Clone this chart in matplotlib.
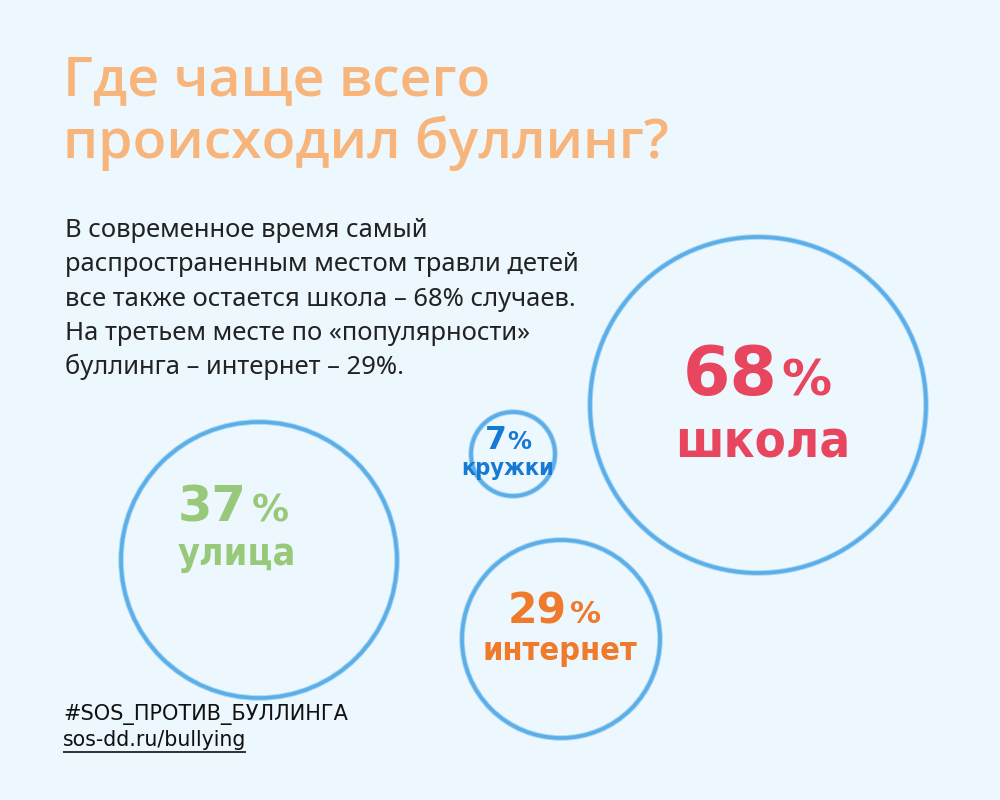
import matplotlib
matplotlib.use("Agg")
import matplotlib.pyplot as plt
from matplotlib.patches import Circle
from matplotlib import font_manager as fm

# ---- data ----
places = ["школа", "улица", "интернет", "кружки"]
shares = [68, 37, 29, 7]
title_lines = ["Где чаще всего", "происходил буллинг?"]
body_lines = [
    "В современное время самый",
    "распространенным местом травли детей",
    "все также остается школа – 68% случаев.",
    "На третьем месте по «популярности»",
    "буллинга – интернет – 29%.",
]
hashtag = "#SOS_ПРОТИВ_БУЛЛИНГА"
url = "sos-dd.ru/bullying"

# ---- layout / style (pixel coordinates) ----
BG = "#EDF7FE"
EDGE = "#5BAEE8"
label_colors = ["#E8455F", "#98C97A", "#EF7A2B", "#1679D3"]
centers = [(758, 405), (259, 560), (561, 639), (513, 454)]
radii = [168, 138, 99, 42]
num_left = [683, 178, 508, 485]
num_w = [95, 69, 59, 22]
pct_left = [781, 252, 570, 507]
pct_w = [50, 37, 31, 24]
num_base_y = [395, 522, 623, 449]
word_cx = [763, 237, 560, 508]
word_w = [175, 118, 155, 93]
word_base_y = [457, 565, 660, 475]

# font choices
ttf = fm.fontManager.ttflist
def has(name, weight=None, stretch=None):
    for f in ttf:
        if f.name != name:
            continue
        if weight is not None and f.weight != weight:
            continue
        if stretch is not None and f.stretch != stretch:
            continue
        return True
    return False

title_font = dict(family="Noto Sans", weight="bold")
for nm in ["Noto Sans", "Open Sans"]:
    if has(nm, 600):
        title_font = dict(family=nm, weight=600)
        break

num_font = dict(family="DejaVu Sans", weight="bold")
word_font = dict(family="DejaVu Sans", weight="bold")
if has("DejaVu Sans", 700, "condensed"):
    word_font = dict(family="DejaVu Sans", weight="bold", stretch="condensed")
elif has("Liberation Sans Narrow", 700):
    word_font = dict(family="Liberation Sans Narrow", weight="bold")

fig = plt.figure(figsize=(10, 8), dpi=100, facecolor=BG)
ax = fig.add_axes([0, 0, 1, 1])
ax.set_xlim(0, 1000)
ax.set_ylim(800, 0)
ax.set_aspect("equal")
ax.axis("off")
ax.set_facecolor(BG)
fig.canvas.draw()
renderer = fig.canvas.get_renderer()


def fit_size(s, width, **kw):
    t = ax.text(0, 0, s, fontsize=20, **kw)
    w = t.get_window_extent(renderer).width
    t.remove()
    return 20 * width / w


# title
ts = 0.5 * (fit_size(title_lines[0], 418, **title_font)
            + fit_size(title_lines[1], 618, **title_font))
for i, line in enumerate(title_lines):
    ax.text(63, 95 + i * 63, line, fontsize=ts, color="#F8B57B",
            va="baseline", ha="left", **title_font)

# body
bs = fit_size(body_lines[1], 515, family="Noto Sans")
for i, line in enumerate(body_lines):
    ax.text(65, 237 + i * 34.3, line, fontsize=bs, family="Noto Sans",
            color="#222222", va="baseline", ha="left")

# circles and labels
for k in range(len(places)):
    cx, cy = centers[k]
    ax.add_patch(Circle((cx, cy), radii[k], fill=False, edgecolor=EDGE,
                        lw=4.0, alpha=0.45))
    ax.add_patch(Circle((cx, cy), radii[k], fill=False, edgecolor=EDGE,
                        lw=2.6))
    col = label_colors[k]
    ns = fit_size(str(shares[k]), num_w[k], **num_font)
    ax.text(num_left[k], num_base_y[k], str(shares[k]), fontsize=ns,
            color=col, ha="left", va="baseline", **num_font)
    ps = fit_size("%", pct_w[k], **num_font)
    ax.text(pct_left[k], num_base_y[k], "%", fontsize=ps,
            color=col, ha="left", va="baseline", **num_font)
    ws = fit_size(places[k], word_w[k], **word_font)
    ax.text(word_cx[k], word_base_y[k], places[k], fontsize=ws,
            color=col, ha="center", va="baseline", **word_font)

# footer
ax.text(63, 720, hashtag, fontsize=15, family="DejaVu Sans",
        color="#111111", ha="left", va="baseline")
t = ax.text(63, 746, url, fontsize=14.8, family="DejaVu Sans",
            color="#111111", ha="left", va="baseline")
fig.canvas.draw()
bb = t.get_window_extent().transformed(ax.transData.inverted())
ax.plot([bb.x0, bb.x1], [752, 752], color="#111111", lw=1.2,
        solid_capstyle="butt")

fig.savefig("out.png", dpi=100, facecolor=BG)
